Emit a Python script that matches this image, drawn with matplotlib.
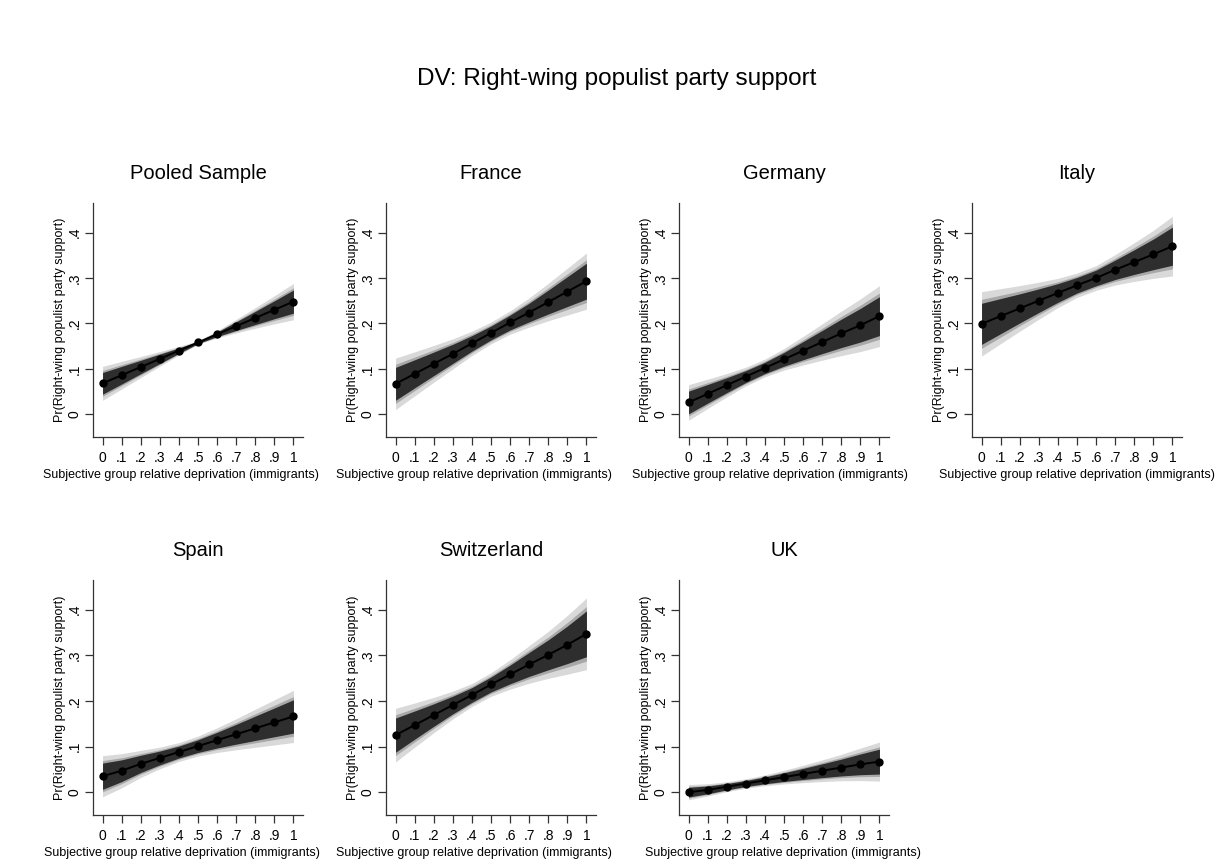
import numpy as np
import matplotlib.pyplot as plt

plt.rcParams['font.family'] = ['Liberation Sans', 'DejaVu Sans']

x = [0, 0.1, 0.2, 0.3, 0.4, 0.5, 0.6, 0.7, 0.8, 0.9, 1.0]
xtick_labels = ['0', '.1', '.2', '.3', '.4', '.5', '.6', '.7', '.8', '.9', '1']
ytick_vals = [0, 0.1, 0.2, 0.3, 0.4]
ytick_labels = ['0', '.1', '.2', '.3', '.4']

panels = ['Pooled Sample', 'France', 'Germany', 'Italy', 'Spain', 'Switzerland', 'UK']

# predicted probabilities (margins) and standard errors
est_pooled = [0.068, 0.086, 0.104, 0.122, 0.140, 0.158, 0.176, 0.194, 0.212, 0.230, 0.248]
se_pooled = [0.0145, 0.0118, 0.0090, 0.0063, 0.0036, 0.0015, 0.0030, 0.0058, 0.0088, 0.0120, 0.0155]

est_france = [0.067, 0.089, 0.111, 0.133, 0.156, 0.179, 0.202, 0.224, 0.247, 0.270, 0.293]
se_france = [0.0220, 0.0188, 0.0157, 0.0128, 0.0104, 0.0093, 0.0100, 0.0125, 0.0160, 0.0200, 0.0240]

est_germany = [0.026, 0.045, 0.064, 0.083, 0.102, 0.121, 0.140, 0.159, 0.178, 0.196, 0.216]
se_germany = [0.0152, 0.0125, 0.0100, 0.0080, 0.0076, 0.0092, 0.0122, 0.0155, 0.0190, 0.0225, 0.0260]

est_italy = [0.199, 0.216, 0.233, 0.250, 0.267, 0.284, 0.300, 0.318, 0.335, 0.352, 0.370]
se_italy = [0.0275, 0.0235, 0.0195, 0.0158, 0.0125, 0.0104, 0.0105, 0.0130, 0.0165, 0.0205, 0.0255]

est_spain = [0.035, 0.047, 0.062, 0.075, 0.088, 0.101, 0.114, 0.127, 0.140, 0.153, 0.166]
se_spain = [0.0175, 0.0145, 0.0115, 0.0092, 0.0080, 0.0085, 0.0105, 0.0132, 0.0162, 0.0192, 0.0222]

est_swiss = [0.125, 0.147, 0.169, 0.191, 0.213, 0.236, 0.258, 0.280, 0.301, 0.323, 0.347]
se_swiss = [0.0228, 0.0188, 0.0150, 0.0118, 0.0098, 0.0100, 0.0125, 0.0160, 0.0200, 0.0250, 0.0305]

est_uk = [0.000, 0.005, 0.012, 0.019, 0.026, 0.033, 0.040, 0.047, 0.054, 0.061, 0.067]
se_uk = [0.0065, 0.0052, 0.0042, 0.0040, 0.0046, 0.0058, 0.0074, 0.0092, 0.0112, 0.0138, 0.0166]

ests = [est_pooled, est_france, est_germany, est_italy, est_spain, est_swiss, est_uk]
ses = [se_pooled, se_france, se_germany, se_italy, se_spain, se_swiss, se_uk]

# 99%, 95%, 90% bands, light to dark
levels = [(2.576, '#d9d9d9'), (1.96, '#a8a8a8'), (1.645, '#2e2e2e')]

W, H = 1217, 868
fig = plt.figure(figsize=(W / 100, H / 100), dpi=100)

# axes boxes in pixels
lefts = [93, 386, 679, 972, 93, 386, 679]
tops = [203, 203, 203, 203, 580, 580, 580]
aw = 210
ah = [234, 234, 234, 234, 235, 235, 235]
# x-title shift (px) relative to the axis centre
xlab_shift = [-17, -17, -14, 0, -16, -17, -1]

for i, name in enumerate(panels):
    ax = fig.add_axes([lefts[i] / W, 1 - (tops[i] + ah[i]) / H, aw / W, ah[i] / H])
    e = np.array(ests[i])
    s = np.array(ses[i])
    for z, col in levels:
        ax.fill_between(x, e - z * s, e + z * s, color=col, lw=0)
    ax.plot(x, e, color='black', lw=1.4, marker='o', ms=5)

    ax.set_xlim(-0.05, 1.05)
    ax.set_ylim(-0.05, 0.465)
    ax.set_xticks(x)
    ax.set_xticklabels(xtick_labels, fontsize=10)
    ax.set_yticks(ytick_vals)
    ax.set_yticklabels(ytick_labels, fontsize=10, rotation=90, va='center')
    ax.tick_params(length=6, width=0.9, color='#333333', pad=4)
    ax.tick_params(axis='y', pad=2)
    ax.spines['top'].set_visible(False)
    ax.spines['right'].set_visible(False)
    for sp in ['left', 'bottom']:
        ax.spines[sp].set_color('#333333')
        ax.spines[sp].set_linewidth(0.9)
    ax.set_xlabel('Subjective group relative deprivation (immigrants)', fontsize=9, labelpad=3)
    ax.xaxis.set_label_coords(0.5 + xlab_shift[i] / aw, -0.135)
    ax.set_ylabel('Pr(Right-wing populist party support)', fontsize=9)
    ax.yaxis.set_label_coords(-27 / aw, 0.5)
    ax.set_title(name, fontsize=14.5, pad=17)

fig.text(617 / W, 1 - 79 / H, 'DV: Right-wing populist party support', fontsize=17.5,
         ha='center', va='center')

fig.savefig('out.png', dpi=100)
